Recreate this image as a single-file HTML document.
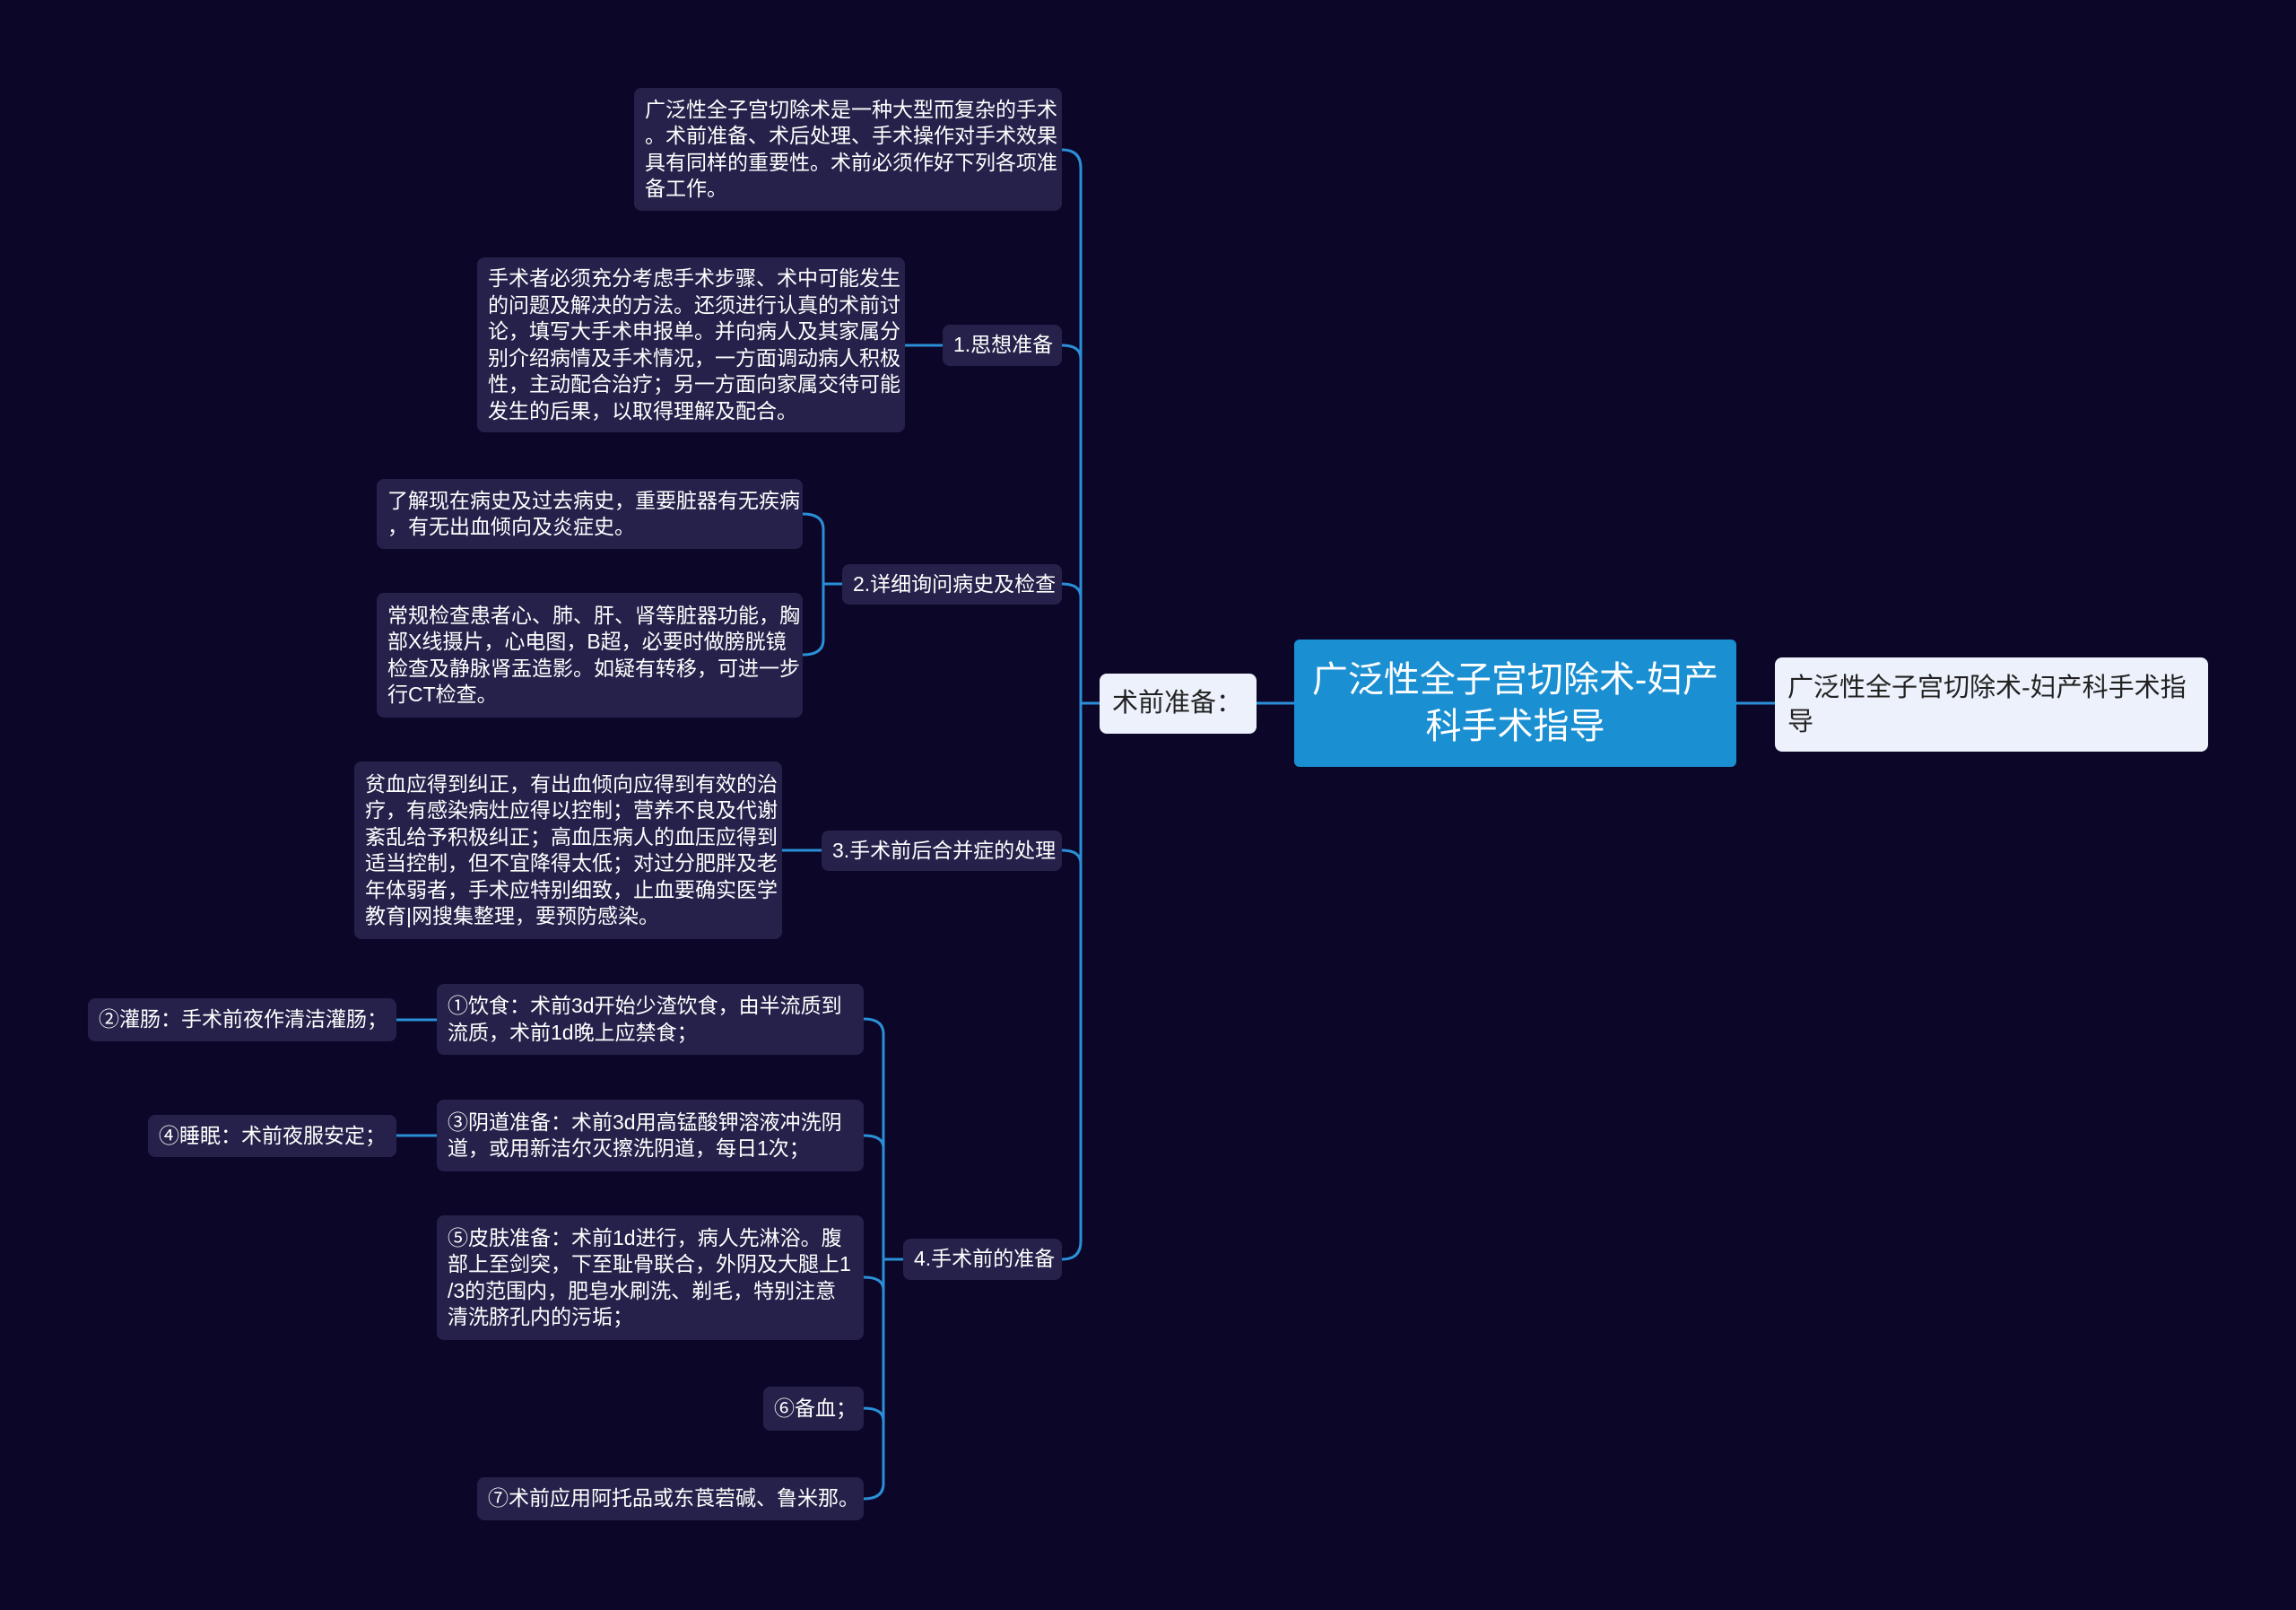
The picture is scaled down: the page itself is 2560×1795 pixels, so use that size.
<!DOCTYPE html>
<html><head><meta charset="utf-8"><style>
body{margin:0;width:2560px;height:1795px;background:#0c0628;overflow:hidden;position:relative;font-family:"Liberation Sans","Noto Sans CJK SC",sans-serif}
.n{position:absolute;box-sizing:border-box;background:#25214a;color:#fff;border-radius:8px;font-size:23px;line-height:29.5px;padding:0 12px;white-space:nowrap;display:flex;flex-direction:column;justify-content:center}
svg{position:absolute;left:0;top:0}
</style></head><body>
<svg width="2560" height="1795" fill="none" stroke="#2a8fd6" stroke-width="3">
<path d="M1184,167 Q1205,167 1205,187 V1384 Q1205,1404 1184,1404"/>
<path d="M1184,385 Q1205,385 1205,400"/>
<path d="M1184,651 Q1205,651 1205,666"/>
<path d="M1184,948 Q1205,948 1205,963"/>
<path d="M1205,784 H1226"/>
<path d="M1401,784 H1443"/>
<path d="M1936,784 H1979"/>
<path d="M1009,385 H1051"/>
<path d="M895,573 Q918,573 918,590 V713 Q918,730 895,730"/>
<path d="M918,651 H939"/>
<path d="M872,948 H916"/>
<path d="M963,1136 Q985,1136 985,1153 V1654 Q985,1671 963,1671"/>
<path d="M963,1266 Q985,1266 985,1280"/>
<path d="M963,1424 Q985,1424 985,1438"/>
<path d="M963,1570 Q985,1570 985,1584"/>
<path d="M985,1404 H1007"/>
<path d="M442,1137 H487"/>
<path d="M442,1266 H487"/>
</svg>
<div class="n" style="left:1443px;top:713px;width:493px;height:142px;background:#1a8fd2;font-size:40px;line-height:52px;align-items:center;text-align:center;border-radius:6px">广泛性全子宫切除术-妇产<br>科手术指导</div>
<div class="n" style="left:1979px;top:733px;width:483px;height:105px;background:#edf1fb;color:#222;font-size:29px;line-height:38px;padding:0 14px">广泛性全子宫切除术-妇产科手术指<br>导</div>
<div class="n" style="left:1226px;top:751px;width:175px;height:67px;background:#edf1fb;color:#222;font-size:29px;padding:0 14px">术前准备：</div>
<div class="n" style="left:707px;top:98px;width:477px;height:137px">广泛性全子宫切除术是一种大型而复杂的手术<br>。术前准备、术后处理、手术操作对手术效果<br>具有同样的重要性。术前必须作好下列各项准<br>备工作。</div>
<div class="n" style="left:1051px;top:362px;width:133px;height:46px">1.思想准备</div>
<div class="n" style="left:532px;top:287px;width:477px;height:195px">手术者必须充分考虑手术步骤、术中可能发生<br>的问题及解决的方法。还须进行认真的术前讨<br>论，填写大手术申报单。并向病人及其家属分<br>别介绍病情及手术情况，一方面调动病人积极<br>性，主动配合治疗；另一方面向家属交待可能<br>发生的后果，以取得理解及配合。</div>
<div class="n" style="left:939px;top:629px;width:245px;height:45px">2.详细询问病史及检查</div>
<div class="n" style="left:420px;top:534px;width:475px;height:78px">了解现在病史及过去病史，重要脏器有无疾病<br>，有无出血倾向及炎症史。</div>
<div class="n" style="left:420px;top:661px;width:475px;height:139px">常规检查患者心、肺、肝、肾等脏器功能，胸<br>部X线摄片，心电图，B超，必要时做膀胱镜<br>检查及静脉肾盂造影。如疑有转移，可进一步<br>行CT检查。</div>
<div class="n" style="left:916px;top:926px;width:268px;height:45px">3.手术前后合并症的处理</div>
<div class="n" style="left:395px;top:849px;width:477px;height:198px">贫血应得到纠正，有出血倾向应得到有效的治<br>疗，有感染病灶应得以控制；营养不良及代谢<br>紊乱给予积极纠正；高血压病人的血压应得到<br>适当控制，但不宜降得太低；对过分肥胖及老<br>年体弱者，手术应特别细致，止血要确实医学<br>教育|网搜集整理，要预防感染。</div>
<div class="n" style="left:1007px;top:1381px;width:177px;height:46px">4.手术前的准备</div>
<div class="n" style="left:487px;top:1097px;width:476px;height:79px">①饮食：术前3d开始少渣饮食，由半流质到<br>流质，术前1d晚上应禁食；</div>
<div class="n" style="left:487px;top:1226px;width:476px;height:80px">③阴道准备：术前3d用高锰酸钾溶液冲洗阴<br>道，或用新洁尔灭擦洗阴道，每日1次；</div>
<div class="n" style="left:487px;top:1355px;width:476px;height:139px">⑤皮肤准备：术前1d进行，病人先淋浴。腹<br>部上至剑突，下至耻骨联合，外阴及大腿上1<br>/3的范围内，肥皂水刷洗、剃毛，特别注意<br>清洗脐孔内的污垢；</div>
<div class="n" style="left:851px;top:1546px;width:112px;height:49px">⑥备血；</div>
<div class="n" style="left:532px;top:1647px;width:431px;height:48px">⑦术前应用阿托品或东莨菪碱、鲁米那。</div>
<div class="n" style="left:98px;top:1113px;width:344px;height:48px">②灌肠：手术前夜作清洁灌肠；</div>
<div class="n" style="left:165px;top:1243px;width:277px;height:47px">④睡眠：术前夜服安定；</div>
</body></html>
